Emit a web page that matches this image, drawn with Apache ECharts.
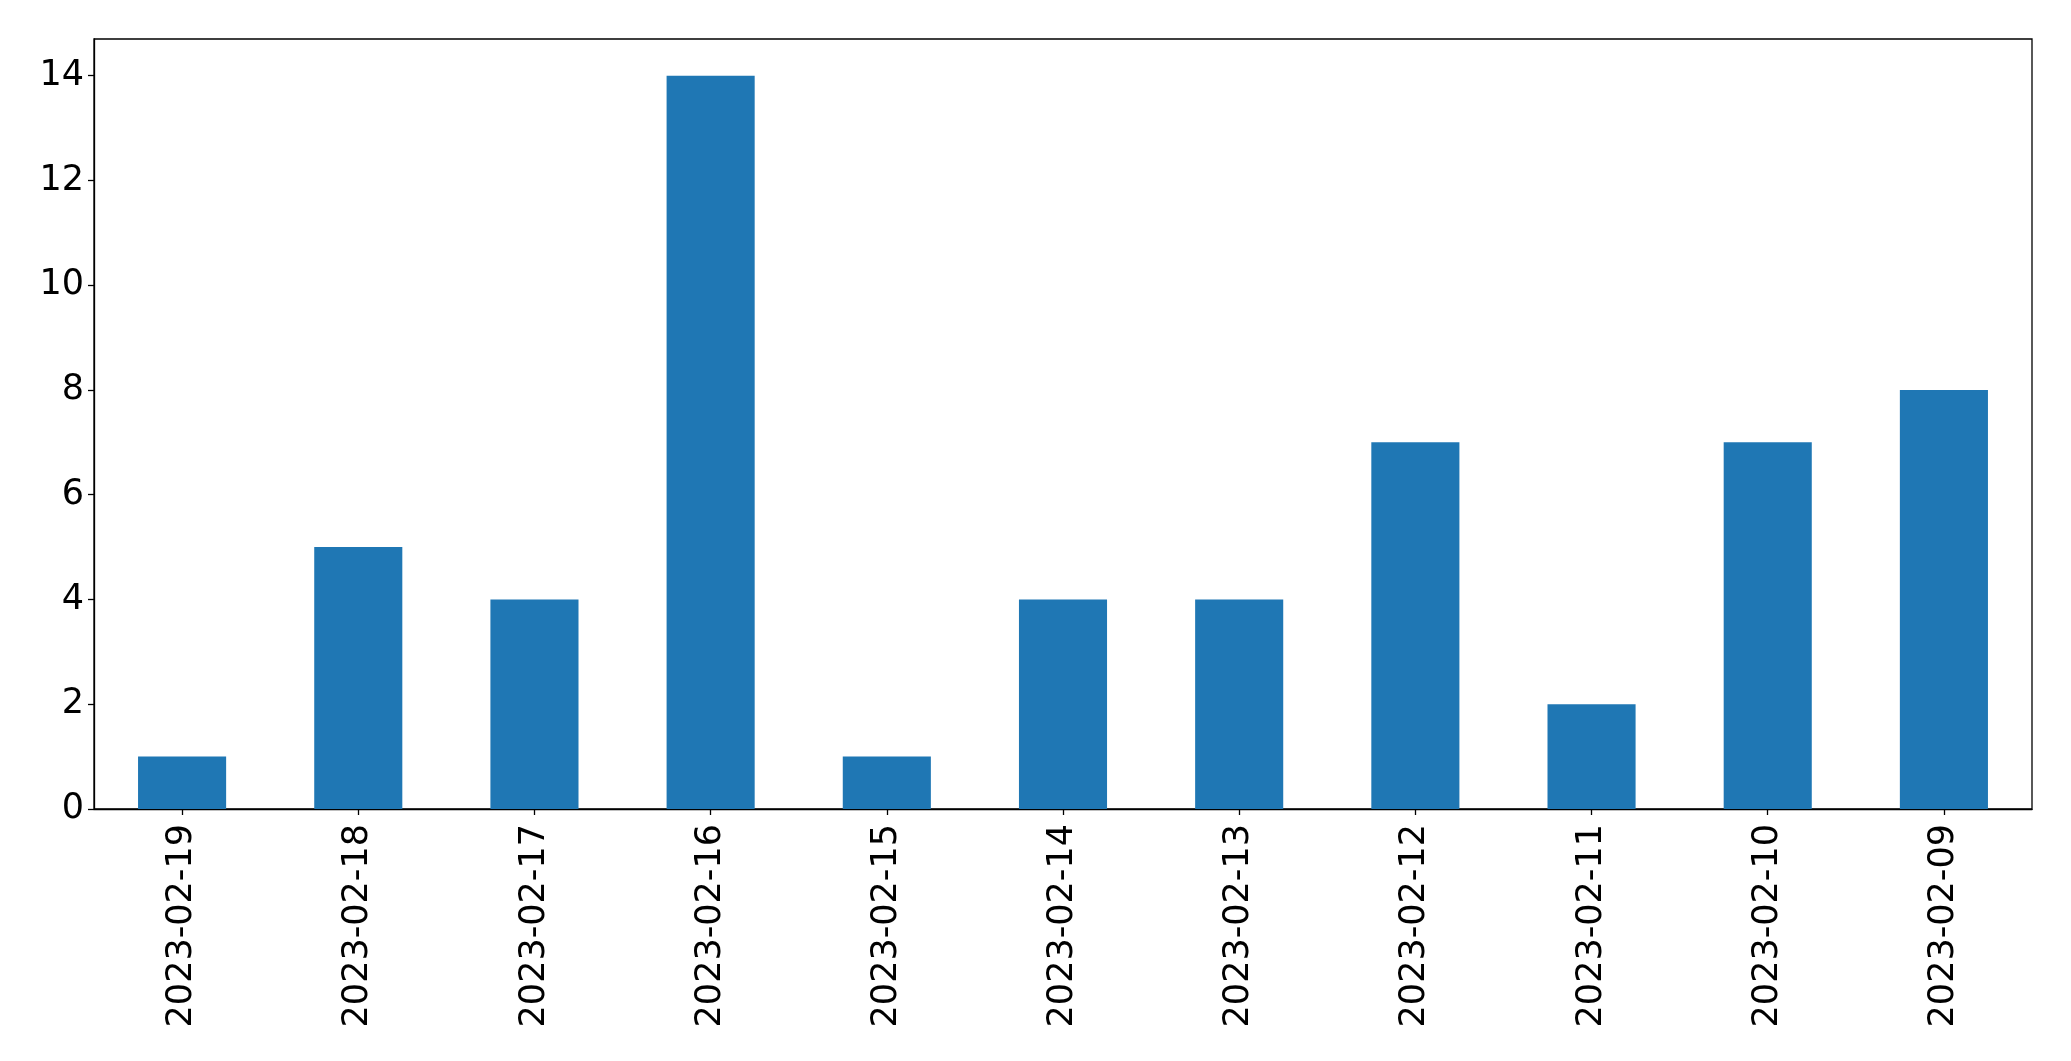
<!DOCTYPE html>
<html>
<head>
<meta charset="utf-8">
<script src="https://cdn.jsdelivr.net/npm/echarts@6/dist/echarts.min.js"></script>
<style>
html,body{margin:0;padding:0;background:#fff;}
#chart{width:2071px;height:1061px;}
</style>
</head>
<body>
<div id="chart"></div>
<script>
const categories = ['2023-02-19','2023-02-18','2023-02-17','2023-02-16','2023-02-15','2023-02-14','2023-02-13','2023-02-12','2023-02-11','2023-02-10','2023-02-09'];
const values = [1,5,4,14,1,4,4,7,2,7,8];
const yTicks = [0,2,4,6,8,10,12,14];

const chart = echarts.init(document.getElementById('chart'), null, {renderer:'canvas'});
const font = 'DejaVu Sans';
chart.setOption({
  animation:false,
  backgroundColor:'#ffffff',
  grid:{left:94,top:39,width:1938,height:770,show:true,borderColor:'#000',borderWidth:1.3,backgroundColor:'transparent'},
  xAxis:{
    type:'category',
    data:categories,
    boundaryGap:true,
    axisLine:{show:true,lineStyle:{color:'#000',width:1.3}},
    axisTick:{show:true,alignWithLabel:true,length:6,lineStyle:{color:'#000',width:1.3}},
    axisLabel:{rotate:90,margin:15,color:'#000',fontFamily:font,fontSize:35,interval:0},
    splitLine:{show:false}
  },
  yAxis:{
    type:'value',
    min:0,max:14.7,
    axisLine:{show:true,lineStyle:{color:'#000',width:1.3}},
    axisTick:{show:true,length:6,customValues:yTicks,lineStyle:{color:'#000',width:1.3}},
    axisLabel:{margin:10,color:'#000',fontFamily:font,fontSize:35,customValues:yTicks},
    splitLine:{show:false}
  },
  series:[{
    type:'bar',
    data:values,
    barWidth:'50%',
    itemStyle:{color:'#1f77b4'}
  }]
});
</script>
</body>
</html>
